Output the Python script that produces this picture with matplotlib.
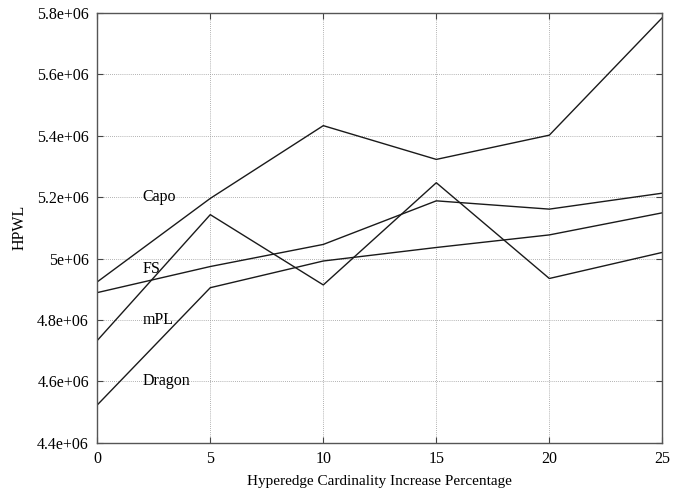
import numpy as np
import matplotlib.pyplot as plt

plt.rcParams['font.family'] = ['Liberation Serif', 'DejaVu Serif']

pct = [0, 5, 10, 15, 20, 25]
capo = [4.924e6, 5.196e6, 5.433e6, 5.323e6, 5.402e6, 5.785e6]
fs = [4.889e6, 4.974e6, 5.046e6, 5.188e6, 5.161e6, 5.213e6]
mpl_vals = [4.733e6, 5.143e6, 4.914e6, 5.247e6, 4.935e6, 5.020e6]
dragon = [4.523e6, 4.905e6, 4.992e6, 5.036e6, 5.077e6, 5.149e6]

labels = ["Capo", "FS", "mPL", "Dragon"]
label_y = [5.2e6, 4.965e6, 4.8e6, 4.6e6]

fig = plt.figure(figsize=(6.86, 4.91), dpi=100)
ax = fig.add_axes([0.1418, 0.0984, 0.8237, 0.8751])

for series in [capo, fs, mpl_vals, dragon]:
    ax.plot(pct, series, color="#1a1a1a", linewidth=1.0)

for name, y in zip(labels, label_y):
    ax.text(2, y, name, fontsize=11.5, ha="left", va="center")

ax.set_xlim(0, 25)
ax.set_ylim(4.4e6, 5.8e6)
ax.set_xticks(pct)
yt = np.arange(4.4e6, 5.8e6 + 1, 0.2e6)
ax.set_yticks(yt)
ax.set_yticklabels(["4.4e+06", "4.6e+06", "4.8e+06", "5e+06", "5.2e+06",
                    "5.4e+06", "5.6e+06", "5.8e+06"])
ax.tick_params(direction="in", length=4, width=0.8, color="#444444",
               top=True, right=True, labelsize=11.5, pad=6)
ax.grid(True, linestyle=(0, (1, 1.5)), color="#999999", linewidth=0.6)
for s in ax.spines.values():
    s.set_color("#555555")
    s.set_linewidth(1.0)

ax.set_xlabel("Hyperedge Cardinality Increase Percentage", fontsize=11, labelpad=6)
ax.set_ylabel("HPWL", fontsize=11.5, labelpad=7)

fig.savefig("out.png", dpi=100)
